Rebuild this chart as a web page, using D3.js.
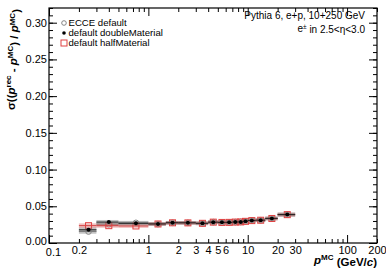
<!DOCTYPE html>
<html><head><meta charset="utf-8">
<script src="https://cdn.jsdelivr.net/npm/d3@7"></script>
<style>
body{margin:0;background:#fff;}
text{font-family:"Liberation Sans",Arial,Helvetica,sans-serif;}
</style></head>
<body><svg id="c" width="386" height="268"></svg>
<script>
// ---- data ----
const binLow  = [0.2,0.3,0.5,1,1.5,2,3,4,5,6,7,8,9,10,12,15,20];
const binHigh = [0.3,0.5,1,1.5,2,3,4,5,6,7,8,9,10,12,15,20,30];
const ecceDefault    = [0.0155,0.0255,0.0275,0.0258,0.0275,0.0274,0.0268,0.0285,0.0280,0.0281,0.0285,0.0287,0.0295,0.0306,0.0310,0.0334,0.0386];
const doubleMaterial = [0.0180,0.0285,0.0268,0.0260,0.0276,0.0275,0.0268,0.0284,0.0281,0.0281,0.0286,0.0287,0.0296,0.0306,0.0311,0.0335,0.0387];
const halfMaterial   = [0.0236,0.0236,0.0232,0.0259,0.0275,0.0274,0.0268,0.0284,0.0280,0.0281,0.0285,0.0287,0.0295,0.0305,0.0310,0.0334,0.0386];
const errEcce   = [0.0015,0.0012,0.0010,0.0008,0.0008,0.0008,0.0008,0.0008,0.0008,0.0008,0.0008,0.0008,0.0008,0.0008,0.0008,0.0008,0.0010];
const errDouble = [0.0015,0.0012,0.0010,0.0008,0.0008,0.0008,0.0008,0.0008,0.0008,0.0008,0.0008,0.0008,0.0008,0.0008,0.0008,0.0008,0.0010];
const errHalf   = [0.0015,0.0012,0.0010,0.0008,0.0008,0.0008,0.0008,0.0008,0.0008,0.0008,0.0008,0.0008,0.0008,0.0008,0.0008,0.0008,0.0010];
const yTicks = [0,0.05,0.10,0.15,0.20,0.25,0.30];
const xLabelTicks = [0.1,0.2,1,2,3,4,5,6,10,20,30,100,200];
const seriesNames = ["ECCE default","default doubleMaterial","default halfMaterial"];

// ---- layout ----
const L=49, R=377, T=8, B=243;
const svg=d3.select("#c");
const x=d3.scaleLog().domain([0.1,200]).range([L,R]);
const y=d3.scaleLinear().domain([0,0.32]).range([B,T]);

const xAll=[];
[0.1,1,10,100].forEach(d=>{for(let k=1;k<=9;k++){const v=d*k; if(v<=200.0001) xAll.push(+v.toPrecision(3));}});
xAll.push(200);
const xMajor=[0.1,1,10,100];
const xMinor=xAll.filter(v=>!xMajor.includes(v));
const yMinor=d3.range(0,33).map(i=>i/100).filter(v=>v<=0.32);

function clean(g){g.select(".domain").remove();g.selectAll("line").attr("stroke","#000");}

// bottom
svg.append("g").attr("transform",`translate(0,${B})`)
  .call(d3.axisBottom(x).tickValues(xMinor).tickSize(-4).tickFormat("")).call(clean);
svg.append("g").attr("transform",`translate(0,${B})`)
  .call(d3.axisBottom(x).tickValues(xMajor).tickSize(-8).tickFormat("")).call(clean);
const xl=svg.append("g").attr("transform",`translate(0,${B})`)
  .call(d3.axisBottom(x).tickValues(xLabelTicks).tickSize(0).tickPadding(3).tickFormat(d=>String(d))).call(clean);
xl.selectAll("text").attr("font-size",11).attr("fill","#000").attr("font-family","Liberation Sans, Arial, sans-serif");
xl.selectAll("text").filter(d=>d===0.1).attr("x",4).attr("y",5);
// top
svg.append("g").attr("transform",`translate(0,${T})`)
  .call(d3.axisTop(x).tickValues(xMinor).tickSize(-4).tickFormat("")).call(clean);
svg.append("g").attr("transform",`translate(0,${T})`)
  .call(d3.axisTop(x).tickValues(xMajor).tickSize(-8).tickFormat("")).call(clean);
// left
svg.append("g").attr("transform",`translate(${L},0)`)
  .call(d3.axisLeft(y).tickValues(yMinor).tickSize(-4).tickFormat("")).call(clean);
const yl=svg.append("g").attr("transform",`translate(${L},0)`)
  .call(d3.axisLeft(y).tickValues(yTicks).tickSize(-8).tickPadding(2).tickFormat(d3.format(".2f"))).call(clean);
yl.selectAll("text").attr("font-size",11).attr("fill","#000").attr("font-family","Liberation Sans, Arial, sans-serif");
yl.selectAll("text").filter(d=>d===0).attr("y",-2);
// right
svg.append("g").attr("transform",`translate(${R},0)`)
  .call(d3.axisRight(y).tickValues(yMinor).tickSize(-4).tickFormat("")).call(clean);
svg.append("g").attr("transform",`translate(${R},0)`)
  .call(d3.axisRight(y).tickValues(yTicks).tickSize(-8).tickFormat("")).call(clean);

// frame
svg.append("rect").attr("x",L).attr("y",T).attr("width",R-L).attr("height",B-T)
  .attr("fill","none").attr("stroke","#000").attr("stroke-width",1.2);

// ---- data ----
const idx=d3.range(binLow.length);
const center=i=>(binLow[i]+binHigh[i])/2;
function drawSeries(vals,errs,band,line){
  const g=svg.append("g");
  g.selectAll("rect.b").data(idx).join("rect")
    .attr("x",i=>x(binLow[i])).attr("width",i=>x(binHigh[i])-x(binLow[i]))
    .attr("y",i=>y(vals[i]+errs[i])-1.2).attr("height",i=>y(vals[i]-errs[i])-y(vals[i]+errs[i])+2.4)
    .attr("fill",band);
  g.selectAll("line.h").data(idx).join("line")
    .attr("x1",i=>x(binLow[i])).attr("x2",i=>x(binHigh[i]))
    .attr("y1",i=>y(vals[i])).attr("y2",i=>y(vals[i]))
    .attr("stroke",line).attr("stroke-width",1);
  return g;
}
const gE=drawSeries(ecceDefault,errEcce,"rgba(150,150,150,0.45)","#777");
const gD=drawSeries(doubleMaterial,errDouble,"rgba(120,120,120,0.45)","#222");
const gH=drawSeries(halfMaterial,errHalf,"rgba(225,110,110,0.45)","#d04040");

gE.selectAll("circle").data(idx).join("circle")
  .attr("cx",i=>x(center(i))).attr("cy",i=>y(ecceDefault[i])).attr("r",2.8)
  .attr("fill","none").attr("stroke","#888").attr("stroke-width",1);
gH.selectAll("rect.m").data(idx).join("rect")
  .attr("x",i=>x(center(i))-3).attr("y",i=>y(halfMaterial[i])-3).attr("width",6).attr("height",6)
  .attr("fill","none").attr("stroke","#e04040").attr("stroke-width",1);
gD.selectAll("circle").data(idx).join("circle")
  .attr("cx",i=>x(center(i))).attr("cy",i=>y(doubleMaterial[i])).attr("r",2)
  .attr("fill","#000");
gD.raise();

// ---- legend ----
const lg=svg.append("g");
const ly=[23,33,43];
lg.append("circle").attr("cx",64).attr("cy",ly[0]).attr("r",2.3).attr("fill","none").attr("stroke","#777").attr("stroke-width",0.9);
lg.append("circle").attr("cx",64).attr("cy",ly[1]).attr("r",1.8).attr("fill","#000");
lg.append("rect").attr("x",61).attr("y",ly[2]-3).attr("width",6).attr("height",6).attr("fill","none").attr("stroke","#e04040").attr("stroke-width",1);
seriesNames.forEach((s,i)=>lg.append("text").attr("x",68.5).attr("y",ly[i]).attr("dy","0.35em")
  .attr("font-size",9.6).attr("fill","#000").text(s));

// ---- annotations ----
svg.append("text").attr("x",365).attr("y",15).attr("dy","0.35em").attr("text-anchor","end")
  .attr("font-size",10).text("Pythia 6, e+p, 10+250 GeV");
const t2=svg.append("text").attr("x",365).attr("y",28).attr("dy","0.35em").attr("text-anchor","end").attr("font-size",10);
t2.append("tspan").text("e");
t2.append("tspan").attr("dy","-0.4em").attr("font-size",6.5).text("±");
t2.append("tspan").attr("dy","0.4em").text(" in 2.5<η<3.0");

// x title
const xt=svg.append("text").attr("x",R).attr("y",264).attr("text-anchor","end").attr("font-size",11.5).attr("font-weight","bold");
xt.append("tspan").attr("font-style","italic").text("p");
xt.append("tspan").attr("dy","-0.45em").attr("font-size",8).text("MC");
xt.append("tspan").attr("dy","0.45em").text(" (GeV/");
xt.append("tspan").attr("font-style","italic").text("c");
xt.append("tspan").text(")");

// y title
const yt=svg.append("text").attr("transform",`translate(15,${T+1}) rotate(-90)`).attr("text-anchor","end")
  .attr("font-size",11.5).attr("font-weight","bold");
yt.append("tspan").text("σ((");
yt.append("tspan").attr("font-style","italic").text("p");
yt.append("tspan").attr("dy","-0.45em").attr("font-size",8).text("rec");
yt.append("tspan").attr("dy","0.45em").text(" - ");
yt.append("tspan").attr("font-style","italic").text("p");
yt.append("tspan").attr("dy","-0.45em").attr("font-size",8).text("MC");
yt.append("tspan").attr("dy","0.45em").text(") / ");
yt.append("tspan").attr("font-style","italic").text("p");
yt.append("tspan").attr("dy","-0.45em").attr("font-size",8).text("MC");
yt.append("tspan").attr("dy","0.45em").text(")");
</script></body></html>
